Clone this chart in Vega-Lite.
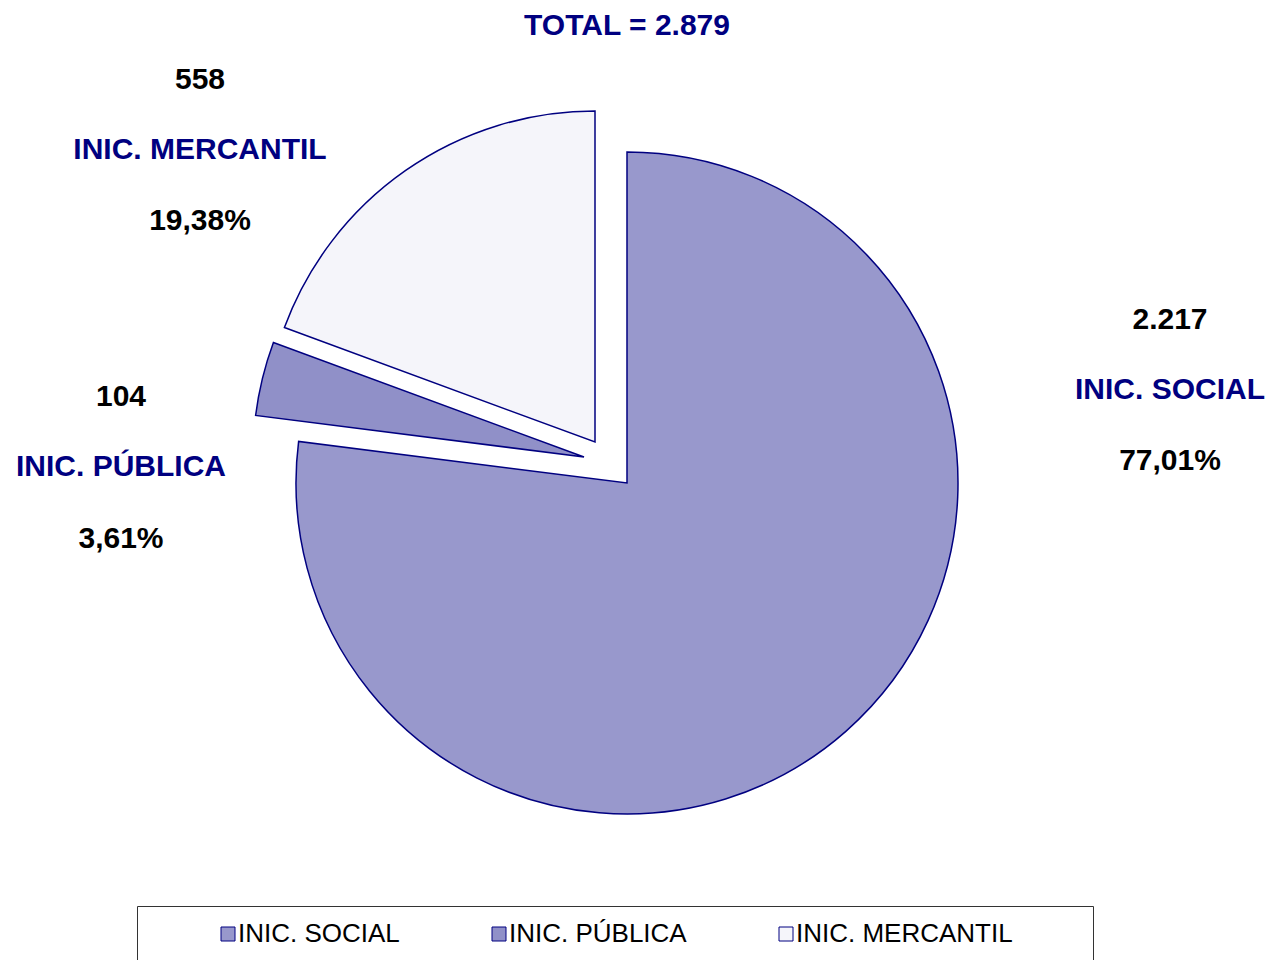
{
  "$schema": "https://vega.github.io/schema/vega-lite/v6.json",
  "width": 1254,
  "height": 954,
  "autosize": {"type": "none"},
  "padding": {"left": 0, "top": 6, "right": 14, "bottom": 0},
  "background": "white",
  "title": {
    "text": "TOTAL = 2.879",
    "font": "Liberation Sans",
    "fontSize": 30,
    "fontWeight": "bold",
    "color": "#000080",
    "anchor": "middle",
    "baseline": "middle",
    "offset": -50
  },
  "data": {
    "values": [
      {"categoria": "INIC. SOCIAL", "valor": 2217},
      {"categoria": "INIC. PÚBLICA", "valor": 104},
      {"categoria": "INIC. MERCANTIL", "valor": 558}
    ]
  },
  "transform": [
    {"joinaggregate": [{"op": "sum", "field": "valor", "as": "total"}]},
    {"window": [{"op": "sum", "field": "valor", "as": "fin"}], "frame": [null, 0]},
    {"calculate": "datum.fin - datum.valor", "as": "inicio"},
    {"calculate": "datum.valor / datum.total", "as": "pct"}
  ],
  "layer": [
    {
      "transform": [{"filter": "datum.categoria === 'INIC. SOCIAL'"}],
      "layer": [
        {
          "mark": {"type": "arc", "radius": 331, "stroke": "#000080", "strokeWidth": 1.5},
          "encoding": {
            "theta": {"field": "inicio", "type": "quantitative", "scale": {"domain": [0, 2879]}},
            "theta2": {"field": "fin"},
            "color": {
              "field": "categoria", "type": "nominal",
              "scale": {"domain": ["INIC. SOCIAL", "INIC. PÚBLICA", "INIC. MERCANTIL"], "range": ["#9898cc", "#9090c8", "#f5f5fa"]},
              "legend": {
                "title": "\u00a0",
                "titleOrient": "left",
                "titleFontSize": 10,
                "titlePadding": 63,
                "orient": "none",
                "legendX": 137,
                "legendY": 900,
                "direction": "horizontal",
                "padding": 15,
                "strokeColor": "#333333",
                "fillColor": "#ffffff",
                "symbolType": "square",
                "symbolSize": 196,
                "labelFont": "Liberation Sans",
                "labelFontSize": 26,
                "labelColor": "#000000",
                "labelOffset": -3,
                "labelLimit": 0,
                "columnPadding": 86,
                "labelExpr": "datum.label === 'INIC. MERCANTIL' ? datum.label + '\u2003\u2003\u00a0\u2009\u200b' : datum.label",
                "symbolStrokeColor": "#000080",
                "symbolStrokeWidth": 1,
                "encode": {"symbols": {"update": {"stroke": {"value": "#000080"}, "strokeWidth": {"value": 1}}}}
              }
            }
          }
        },
        {"mark": {"type": "text", "color": "#000000", "xOffset": 543, "yOffset": -163},
         "encoding": {"text": {"field": "valor", "type": "quantitative", "format": ",d"}}},
        {"mark": {"type": "text", "color": "#000080", "xOffset": 543, "yOffset": -93},
         "encoding": {"text": {"field": "categoria", "type": "nominal"}}},
        {"mark": {"type": "text", "color": "#000000", "xOffset": 543, "yOffset": -22},
         "encoding": {"text": {"field": "pct", "type": "quantitative", "format": ".2%"}}}
      ]
    },
    {
      "transform": [{"filter": "datum.categoria === 'INIC. PÚBLICA'"}],
      "layer": [
        {
          "mark": {"type": "arc", "radius": 331, "stroke": "#000080", "strokeWidth": 1.5, "xOffset": -43, "yOffset": -26},
          "encoding": {
            "theta": {"field": "inicio", "type": "quantitative", "scale": {"domain": [0, 2879]}},
            "theta2": {"field": "fin"},
            "color": {"field": "categoria", "type": "nominal"}
          }
        },
        {"mark": {"type": "text", "color": "#000000", "xOffset": -506, "yOffset": -86},
         "encoding": {"text": {"field": "valor", "type": "quantitative", "format": ",d"}}},
        {"mark": {"type": "text", "color": "#000080", "xOffset": -506, "yOffset": -16},
         "encoding": {"text": {"field": "categoria", "type": "nominal"}}},
        {"mark": {"type": "text", "color": "#000000", "xOffset": -506, "yOffset": 56},
         "encoding": {"text": {"field": "pct", "type": "quantitative", "format": ".2%"}}}
      ]
    },
    {
      "transform": [{"filter": "datum.categoria === 'INIC. MERCANTIL'"}],
      "layer": [
        {
          "mark": {"type": "arc", "radius": 331, "stroke": "#000080", "strokeWidth": 1.5, "xOffset": -32, "yOffset": -41},
          "encoding": {
            "theta": {"field": "inicio", "type": "quantitative", "scale": {"domain": [0, 2879]}},
            "theta2": {"field": "fin"},
            "color": {"field": "categoria", "type": "nominal"}
          }
        },
        {"mark": {"type": "text", "color": "#000000", "xOffset": -427, "yOffset": -403},
         "encoding": {"text": {"field": "valor", "type": "quantitative", "format": ",d"}}},
        {"mark": {"type": "text", "color": "#000080", "xOffset": -427, "yOffset": -333},
         "encoding": {"text": {"field": "categoria", "type": "nominal"}}},
        {"mark": {"type": "text", "color": "#000000", "xOffset": -427, "yOffset": -262},
         "encoding": {"text": {"field": "pct", "type": "quantitative", "format": ".2%"}}}
      ]
    }
  ],
  "config": {
    "view": {"stroke": null},
    "font": "Liberation Sans",
    "text": {"font": "Liberation Sans", "fontWeight": "bold", "fontSize": 30, "baseline": "middle", "align": "center"},
    "locale": {"number": {"decimal": ",", "thousands": ".", "grouping": [3], "currency": ["", " €"]}}
  }
}
